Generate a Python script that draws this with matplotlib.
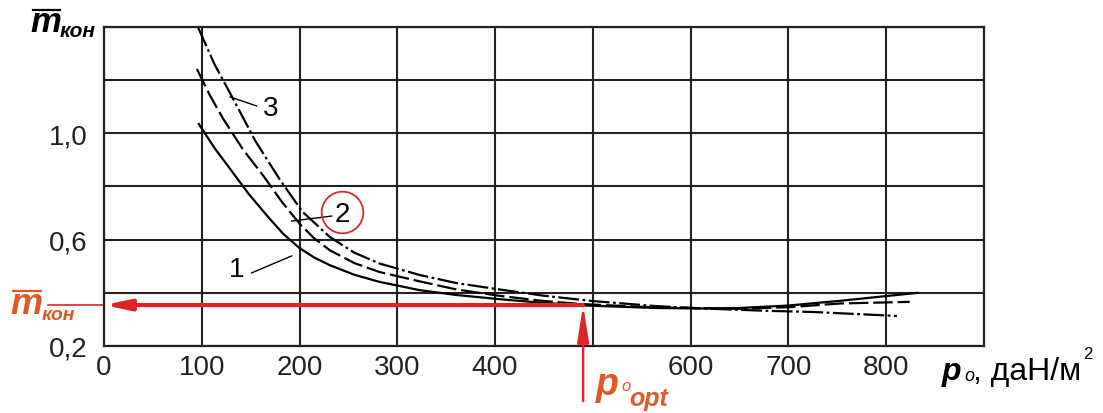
import matplotlib
matplotlib.use('Agg')
import matplotlib.pyplot as plt
from matplotlib.lines import Line2D

plt.rcParams['font.family'] = ['Liberation Sans', 'DejaVu Sans']
plt.rcParams['lines.scale_dashes'] = False

# curves: p0 (daN/m2) -> m_kon
p1 = [97, 113, 129, 148, 167, 183, 200, 215, 231, 256, 282, 323, 360, 402, 450, 494, 565, 610, 650, 699, 753, 832]
m1 = [1.035, 0.945, 0.866, 0.772, 0.689, 0.623, 0.568, 0.533, 0.504, 0.468, 0.441, 0.410, 0.392, 0.377, 0.362, 0.352,
      0.343, 0.341, 0.343, 0.352, 0.370, 0.400]

p2 = [95, 108, 122, 142, 163, 182, 200, 215, 231, 256, 282, 323, 360, 402, 445, 487, 565, 650, 700, 753, 824]
m2 = [1.242, 1.145, 1.054, 0.940, 0.840, 0.742, 0.660, 0.605, 0.560, 0.512, 0.478, 0.443, 0.413, 0.390, 0.371, 0.358,
      0.345, 0.340, 0.346, 0.360, 0.366]

p3 = [96, 113, 131, 155, 180, 203, 231, 256, 282, 323, 360, 402, 450, 500, 565, 620, 681, 725, 811]
m3 = [1.40, 1.26, 1.137, 0.970, 0.825, 0.705, 0.610, 0.551, 0.510, 0.467, 0.437, 0.414, 0.389, 0.369, 0.350, 0.340,
      0.332, 0.328, 0.313]

p_opt = 490
m_opt = 0.354

x_ticks = [0, 100, 200, 300, 400, 500, 600, 700, 800, 900]
x_labels = ['0', '100', '200', '300', '400', '', '600', '700', '800', '']
y_ticks = [0.2, 0.4, 0.6, 0.8, 1.0, 1.2, 1.4]
y_labels = ['0,2', '', '0,6', '', '1,0', '', '']

RED = '#e02424'
ORANGE = '#dd5a26'

W, H = 1103, 414


def fx(x):
    return x / W


def fy(y):
    return 1 - y / H


fig = plt.figure(figsize=(W / 100, H / 100), dpi=100, facecolor='w')
ax = fig.add_axes([fx(104), fy(347), (984 - 104) / W, (347 - 28) / H])

ax.set_xlim(0, 900)
ax.set_ylim(0.2, 1.4)
ax.set_xticks(x_ticks)
ax.set_xticklabels(x_labels)
ax.set_yticks(y_ticks)
ax.set_yticklabels(y_labels)
ax.tick_params(length=0, labelsize=20, colors='#222222')
ax.tick_params(axis='x', pad=6)
ax.tick_params(axis='y', pad=12)
ax.grid(True, color='#222222', lw=1.5)
for s in ax.spines.values():
    s.set_linewidth(1.6)
    s.set_color('#222222')

ax.plot(p1, m1, '-', color='k', lw=1.6, clip_on=False)
ax.plot(p2, m2, color='k', lw=1.6, linestyle=(0, (14, 3.5)), clip_on=False)
ax.plot(p3, m3, color='k', lw=1.6, linestyle=(0, (15, 2.5, 2, 2.5)), clip_on=False)

# curve numbers with leader lines
ax.plot([129, 156], [1.137, 1.103], color='k', lw=1.0)
ax.text(170, 1.095, '3', fontsize=20, ha='center', va='center')
ax.plot([192, 233], [0.670, 0.689], color='k', lw=1.0)
ax.text(244, 0.698, '2', fontsize=20, ha='center', va='center')
ax.plot([243], [0.704], 'o', ms=30, mfc='none', mec='#d42a2a', mew=1.3)
ax.plot([151, 192], [0.475, 0.539], color='k', lw=1.0)
ax.text(136, 0.490, '1', fontsize=20, ha='center', va='center')

# optimum arrows
ax.annotate('', xy=(0, m_opt), xytext=(p_opt, m_opt),
            arrowprops=dict(arrowstyle='-|>,head_length=1.5,head_width=0.32',
                            color=RED, lw=3, shrinkA=0, shrinkB=0))
ax.plot([-57, 0], [m_opt, m_opt], color=RED, lw=1.2, clip_on=False)
ax.annotate('', xy=(p_opt, m_opt), xytext=(p_opt, -0.007),
            arrowprops=dict(arrowstyle='-|>,head_length=2.2,head_width=0.35',
                            color=RED, lw=1.8, shrinkA=0, shrinkB=0),
            annotation_clip=False)

# y axis title
fig.text(fx(30), fy(32), 'm', fontsize=25, fontweight='bold', style='italic')
fig.add_artist(Line2D([fx(33), fx(60)], [fy(11), fy(11)], lw=1.6, color='k'))
fig.text(fx(60), fy(37), 'кон', fontsize=15, fontweight='bold', style='italic')

# red m_kon label
fig.text(fx(10), fy(314), 'm', fontsize=26, fontweight='bold', style='italic', color=ORANGE)
fig.add_artist(Line2D([fx(13), fx(41)], [fy(292), fy(292)], lw=1.6, color=ORANGE))
fig.text(fx(42), fy(320), 'кон', fontsize=14, fontweight='bold', style='italic', color=ORANGE)

# p0 opt label
fig.text(fx(596), fy(395), 'p', fontsize=27, fontweight='bold', style='italic', color=ORANGE)
fig.text(fx(621), fy(391), 'o', fontsize=12, style='italic', color=ORANGE)
fig.text(fx(629), fy(406), 'opt', fontsize=18, fontweight='bold', style='italic', color=ORANGE)

# x axis title
fig.text(fx(942), fy(380), 'p', fontsize=23, fontweight='bold', style='italic')
fig.text(fx(964), fy(381), 'o', fontsize=13, style='italic')
unit = fig.text(fx(973), fy(380), ', даН/м', fontsize=23)
fig.canvas.draw()
bb = unit.get_window_extent()
fig.text((bb.x1 + 2) / W, fy(359), '2', fontsize=12)

fig.savefig('out.png', dpi=100)
